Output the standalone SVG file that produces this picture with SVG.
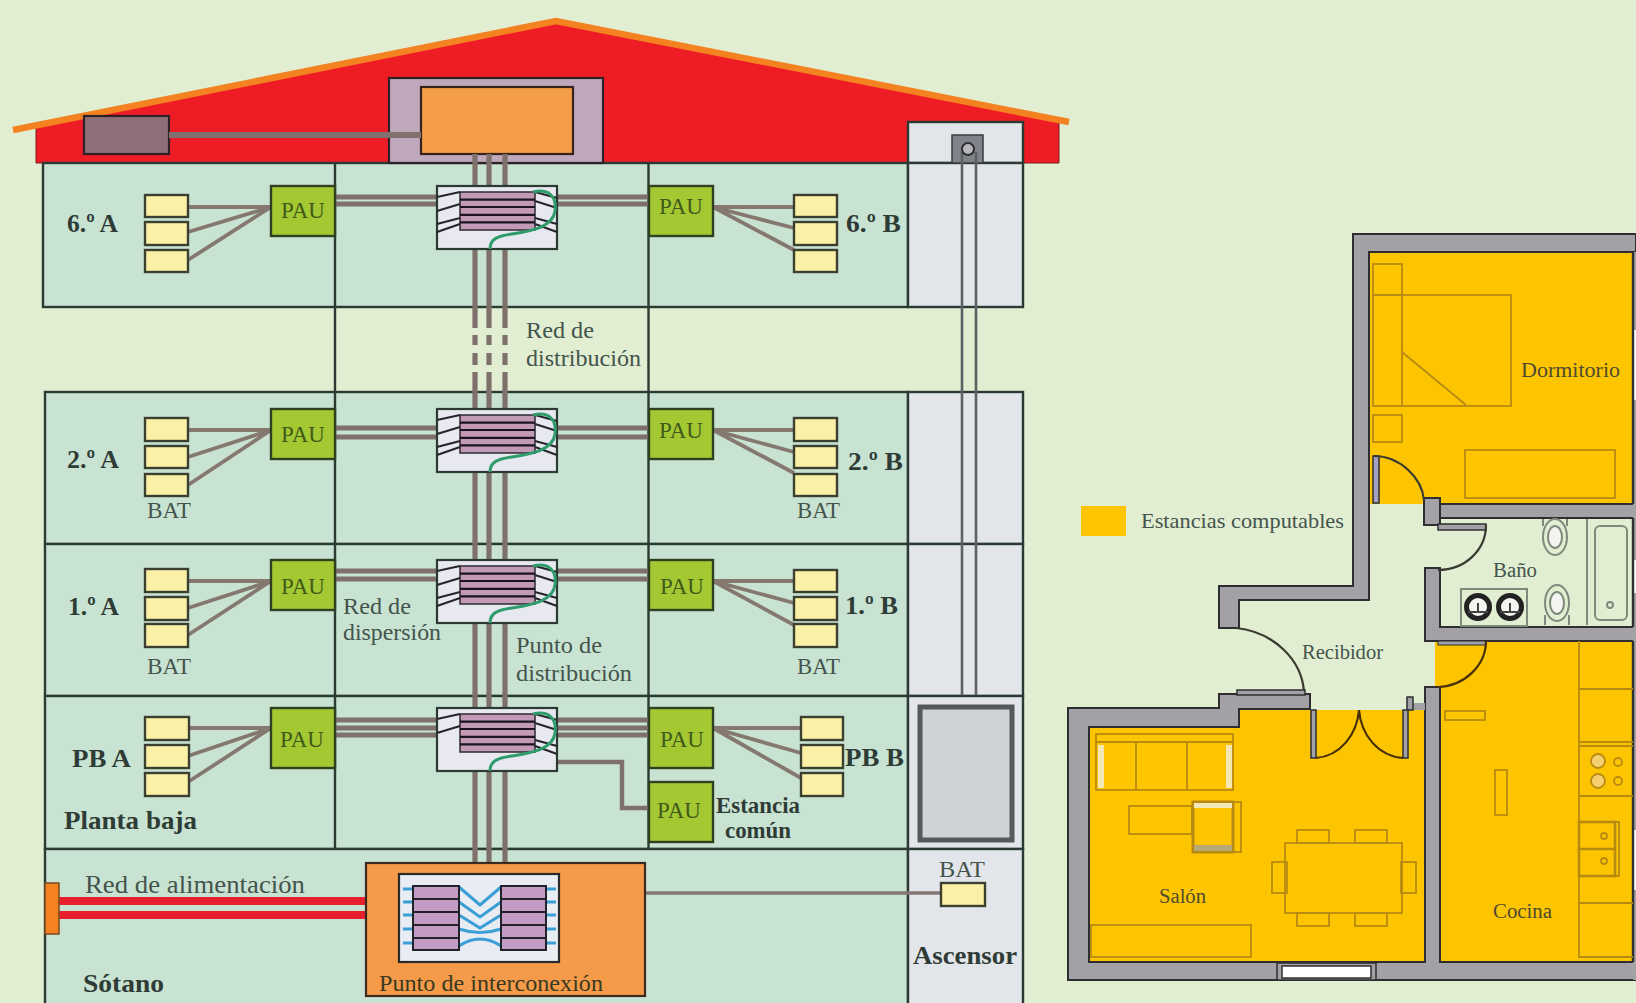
<svg xmlns="http://www.w3.org/2000/svg" xmlns:xlink="http://www.w3.org/1999/xlink" width="1636" height="1003" viewBox="0 0 1636 1003">
<style>
text{font-family:"Liberation Serif","Times New Roman",serif}
.b{font-weight:bold;fill:#2f3c36}
.r{fill:#44544c}
.pt{fill:#3f5a1a;font-size:23px}
.fl{fill:#c9e3d3;stroke:#2c3a34;stroke-width:2.4}
.el{fill:#e2e6ea;stroke:#2c3a34;stroke-width:2.4}
.ln{fill:none;stroke:#2c3a34;stroke-width:2.4}
.pau{fill:#a4c832;stroke:#2f4020;stroke-width:2.4}
.bat{fill:#fbf1a6;stroke:#3c4030;stroke-width:2.4}
.fan{fill:none;stroke:#85796f;stroke-width:3.8}
.tr{fill:none;stroke:#7f706c;stroke-width:5.200}
.wall{fill:#a2a2a6;stroke:#2e2e30;stroke-width:2}
.fu{fill:none;stroke:#b98a12;stroke-width:1.8}
.sa{fill:none;stroke:#7f8a7c;stroke-width:2}
.arc{fill:none;stroke:#3a3a30;stroke-width:2.2}
.pl{fill:#4f4a30;font-size:20px}
</style>
<defs>
<g id="dist">
<rect width="120" height="63" fill="#e8e9f0" stroke="#2c3a34" stroke-width="2.2"/>
<rect x="23" y="6" width="75" height="38" fill="#c39ab6" stroke="#2c2a30" stroke-width="1.5"/>
<path d="M23 13.6H98M23 21H98M23 28.8H98M23 36.4H98" stroke="#1c1420" stroke-width="2.2"/>
<path d="M0 11L23 6M0 25L23 18M98 6L120 12M98 15L120 22M98 32L120 38M98 38L120 46" fill="none" stroke="#26262a" stroke-width="2.200"/>
<path d="M53 60C53 49 62 47 75 45C95 42 116 38 118 22C120 8 112 -1 96 3" transform="translate(0 3)" fill="none" stroke="#2f9c6c" stroke-width="3"/>
</g>
<path id="distlow" d="M0 38L23 32M0 46L23 38" fill="none" stroke="#26262a" stroke-width="2.200"/>
</defs>
<rect id="background" width="1636" height="1003" fill="#e1eed2"/>

<g id="building">
<polygon id="roof" points="36,126 556,22 1059,122 1059,163 36,163" fill="#ee1c25" stroke="#7c1a1a" stroke-width="1"/>
<polyline id="roof-edge" points="13,130 556,21 1069,122" fill="none" stroke="#f58220" stroke-width="6.500"/>
<rect class="fl" x="43" y="163" width="865" height="144"/>
<rect class="fl" x="45" y="392" width="863" height="152"/>
<rect class="fl" x="45" y="544" width="863" height="152"/>
<rect class="fl" x="45" y="696" width="863" height="153"/>
<rect class="fl" x="45" y="849" width="863" height="160"/>
<rect class="el" x="908" y="122" width="115" height="41"/>
<rect class="el" x="908" y="163" width="115" height="144"/>
<rect class="el" x="908" y="392" width="115" height="152"/>
<rect class="el" x="908" y="544" width="115" height="152"/>
<rect class="el" x="908" y="696" width="115" height="153"/>
<rect class="el" x="908" y="849" width="115" height="160"/>
<path class="ln" d="M335 163V849M648.500 163V849"/>
</g>

<g id="machine-room"><rect x="389" y="78" width="214" height="85" fill="#bfa8bc" stroke="#2e2226" stroke-width="2.2"/></g>
<g id="roof-unit"><rect x="421" y="87" width="152" height="67" fill="#f59e4a" stroke="#33241c" stroke-width="2.2"/></g>
<g id="antenna"><rect x="84" y="116" width="85" height="38" fill="#8f6f78" stroke="#2e2226" stroke-width="2.2"/></g>
<g id="lift-motor"><rect x="952" y="135" width="31" height="28" fill="#80828a" stroke="#3a3a3e" stroke-width="1.5"/></g>

<g id="connectors">
<path d="M169 135H421" stroke="#80706e" stroke-width="6" fill="none"/>
<path class="tr" d="M475 154V186M489 154V186M505 154V186M475 249V328M489 249V328M505 249V328M475 335V345M489 335V345M505 335V345M475 353V365M489 353V365M505 353V365M475 372V409M489 372V409M505 372V409M475 473V560M489 473V560M505 473V560M475 624V708M489 624V708M505 624V708M475 772V863M489 772V863M505 772V863"/>
<path class="tr" d="M335 197H437M557 197H649M335 204H437M557 204H649M335 428H437M557 428H649M335 437H437M557 437H649M335 571H437M557 571H649M335 579H437M557 579H649M335 720H437M557 720H649M335 728H437M557 728H649M335 735H437M557 735H649"/>
<path class="tr" style="stroke-width:4.500" d="M557 762H622V808H649"/>
<path class="fan" d="M188 207H271M188 232L271 207M188 260L271 207M188 430H271M188 457L271 430M188 485L271 430M188 581H271M188 608L271 581M188 635L271 581M188 728H271M188 756L271 728M188 782L271 728"/>
<path class="fan" d="M713 207H794M713 207L794 228M713 207L794 250M713 430H794M713 430L794 452M713 430L794 473M713 581H794M713 581L794 603M713 581L794 625M713 728H801M713 728L801 753M713 728L801 778"/>
<path d="M559 893H941" stroke="#847673" stroke-width="3.500" fill="none"/>
<path d="M58 901H366M58 915H366" stroke="#e8202e" stroke-width="8" fill="none"/>
<path d="M962 152V695M976 152V695" stroke="#5c6064" stroke-width="2.600" fill="none"/>
</g>

<g id="lift-pulley"><circle cx="968" cy="149" r="6" fill="#b8b8bc" stroke="#2e2e30" stroke-width="2"/></g>
<g id="lift-cabin"><rect x="920" y="707" width="92" height="133" fill="#cfd2d6" stroke="#55585c" stroke-width="5"/></g>

<g id="dist-6"><use xlink:href="#dist" href="#dist" x="437" y="186"/><use href="#distlow" xlink:href="#distlow" x="437" y="186"/></g>
<g id="dist-2"><use xlink:href="#dist" href="#dist" x="437" y="409"/><use href="#distlow" xlink:href="#distlow" x="437" y="409"/></g>
<g id="dist-1"><use xlink:href="#dist" href="#dist" x="437" y="560"/><use href="#distlow" xlink:href="#distlow" x="437" y="560"/></g>
<g id="dist-pb"><use xlink:href="#dist" href="#dist" x="437" y="708"/></g>

<g id="pau-6a"><rect class="pau" x="271" y="186" width="64" height="50"/><text class="pt" x="281" y="218">PAU</text></g>
<g id="pau-6b"><rect class="pau" x="649" y="186" width="64" height="50"/><text class="pt" x="659" y="214">PAU</text></g>
<g id="pau-2a"><rect class="pau" x="271" y="409" width="64" height="50"/><text class="pt" x="281" y="442">PAU</text></g>
<g id="pau-2b"><rect class="pau" x="649" y="409" width="64" height="50"/><text class="pt" x="659" y="438">PAU</text></g>
<g id="pau-1a"><rect class="pau" x="271" y="560" width="64" height="50"/><text class="pt" x="281" y="594">PAU</text></g>
<g id="pau-1b"><rect class="pau" x="649" y="560" width="64" height="50"/><text class="pt" x="660" y="594">PAU</text></g>
<g id="pau-pba"><rect class="pau" x="271" y="708" width="64" height="60"/><text class="pt" x="280" y="747">PAU</text></g>
<g id="pau-pbb"><rect class="pau" x="649" y="708" width="64" height="60"/><text class="pt" x="660" y="747">PAU</text></g>
<g id="pau-comun"><rect class="pau" x="649" y="782" width="64" height="60"/><text class="pt" x="657" y="818">PAU</text></g>

<g id="bat-6a"><rect class="bat" x="145" y="195" width="43" height="22"/><rect class="bat" x="145" y="222" width="43" height="23"/><rect class="bat" x="145" y="250" width="43" height="22"/></g>
<g id="bat-6b"><rect class="bat" x="794" y="195" width="43" height="22"/><rect class="bat" x="794" y="222" width="43" height="23"/><rect class="bat" x="794" y="250" width="43" height="22"/></g>
<g id="bat-2a"><rect class="bat" x="145" y="418" width="43" height="23"/><rect class="bat" x="145" y="446" width="43" height="22"/><rect class="bat" x="145" y="474" width="43" height="22"/></g>
<g id="bat-2b"><rect class="bat" x="794" y="418" width="43" height="23"/><rect class="bat" x="794" y="446" width="43" height="22"/><rect class="bat" x="794" y="474" width="43" height="22"/></g>
<g id="bat-1a"><rect class="bat" x="145" y="569" width="43" height="23"/><rect class="bat" x="145" y="597" width="43" height="23"/><rect class="bat" x="145" y="624" width="43" height="23"/></g>
<g id="bat-1b"><rect class="bat" x="794" y="570" width="43" height="22"/><rect class="bat" x="794" y="597" width="43" height="23"/><rect class="bat" x="794" y="624" width="43" height="23"/></g>
<g id="bat-pba"><rect class="bat" x="145" y="717" width="44" height="23"/><rect class="bat" x="145" y="745" width="44" height="23"/><rect class="bat" x="145" y="773" width="44" height="23"/></g>
<g id="bat-pbb"><rect class="bat" x="801" y="717" width="42" height="23"/><rect class="bat" x="801" y="745" width="42" height="23"/><rect class="bat" x="801" y="773" width="42" height="23"/></g>
<g id="bat-lift"><rect class="bat" x="941" y="883" width="44" height="23"/></g>

<g id="entry"><rect x="45" y="883" width="14" height="51" fill="#f58220" stroke="#7a4a20" stroke-width="1.5"/></g>

<g id="interconnect">
<rect x="366" y="863" width="279" height="133" fill="#f59a48" stroke="#3a2a20" stroke-width="2.2"/>
<rect x="399" y="874" width="160" height="88" fill="#e9ecf2" stroke="#2a2a2c" stroke-width="2.2"/>
<path d="M403 889H413M403 902H413M403 915H413M403 929H413M403 943H413M546 889H556M546 902H556M546 915H556M546 929H556M546 943H556M459 887L480 905L501 887M459 902L480 917L501 902M459 915L480 928L501 915M459 929Q480 936 501 929M459 946Q480 932 501 946" fill="none" stroke="#3a9fd6" stroke-width="3"/>
<rect x="413" y="886" width="46" height="64" fill="#c39cc4" stroke="#22222a" stroke-width="2"/>
<rect x="501" y="886" width="45" height="64" fill="#c39cc4" stroke="#22222a" stroke-width="2"/>
<path d="M413 899H459M413 912H459M413 925H459M413 938H459M501 899H546M501 912H546M501 925H546M501 938H546" stroke="#22222a" stroke-width="1.8"/>
</g>

<g id="labels-building">
<text class="b" x="67" y="232" font-size="26" textLength="51" lengthAdjust="spacingAndGlyphs">6.º A</text>
<text class="b" x="67" y="468" font-size="26" textLength="52" lengthAdjust="spacingAndGlyphs">2.º A</text>
<text class="b" x="68" y="615" font-size="26" textLength="51" lengthAdjust="spacingAndGlyphs">1.º A</text>
<text class="b" x="72" y="767" font-size="26" textLength="59" lengthAdjust="spacingAndGlyphs">PB A</text>
<text class="b" x="846" y="232" font-size="26" textLength="55" lengthAdjust="spacingAndGlyphs">6.º B</text>
<text class="b" x="848" y="470" font-size="26" textLength="55" lengthAdjust="spacingAndGlyphs">2.º B</text>
<text class="b" x="845" y="614" font-size="26" textLength="53" lengthAdjust="spacingAndGlyphs">1.º B</text>
<text class="b" x="845" y="766" font-size="26" textLength="59" lengthAdjust="spacingAndGlyphs">PB B</text>
<text class="b" x="64" y="829" font-size="26" textLength="133" lengthAdjust="spacingAndGlyphs">Planta baja</text>
<text class="b" x="83" y="992" font-size="26" textLength="81" lengthAdjust="spacingAndGlyphs">Sótano</text>
<text class="b" x="716" y="813" font-size="24" textLength="84" lengthAdjust="spacingAndGlyphs">Estancia</text>
<text class="b" x="725" y="838" font-size="24" textLength="66" lengthAdjust="spacingAndGlyphs">común</text>
<text class="b" x="913" y="964" font-size="26" textLength="104" lengthAdjust="spacingAndGlyphs">Ascensor</text>
<text class="r" x="147" y="518" font-size="23" textLength="44" lengthAdjust="spacingAndGlyphs">BAT</text>
<text class="r" x="147" y="674" font-size="23" textLength="44" lengthAdjust="spacingAndGlyphs">BAT</text>
<text class="r" x="797" y="518" font-size="23" textLength="43" lengthAdjust="spacingAndGlyphs">BAT</text>
<text class="r" x="797" y="674" font-size="23" textLength="43" lengthAdjust="spacingAndGlyphs">BAT</text>
<text class="r" x="939" y="877" font-size="23" textLength="46" lengthAdjust="spacingAndGlyphs">BAT</text>
<text class="r" x="85" y="893" font-size="26" textLength="220" lengthAdjust="spacingAndGlyphs">Red de alimentación</text>
<text class="r" style="fill:#3a3a20" x="379" y="991" font-size="24" textLength="224" lengthAdjust="spacingAndGlyphs">Punto de interconexión</text>
<text class="r" x="526" y="338" font-size="24" textLength="68" lengthAdjust="spacingAndGlyphs">Red de</text>
<text class="r" x="526" y="366" font-size="24" textLength="115" lengthAdjust="spacingAndGlyphs">distribución</text>
<text class="r" x="343" y="614" font-size="24" textLength="68" lengthAdjust="spacingAndGlyphs">Red de</text>
<text class="r" x="343" y="640" font-size="24" textLength="98" lengthAdjust="spacingAndGlyphs">dispersión</text>
<text class="r" x="516" y="653" font-size="24" textLength="86" lengthAdjust="spacingAndGlyphs">Punto de</text>
<text class="r" x="516" y="681" font-size="24" textLength="116" lengthAdjust="spacingAndGlyphs">distribución</text>
</g>

<g id="floor-plan">
<rect x="1369" y="252" width="264" height="252" fill="#fdc500"/>
<rect x="1435" y="641" width="198" height="320" fill="#fdc500"/>
<polygon points="1089,727 1239,727 1239,710 1425,710 1425,961 1089,961" fill="#fdc500"/>

<path class="wall" d="M1636 234H1353V586H1219V628H1239V600H1369V252H1636Z"/>
<rect class="wall" x="1440" y="504" width="196" height="14"/>
<rect class="wall" x="1424" y="498" width="16" height="27"/>
<path class="wall" d="M1425 568H1440V627H1636V641H1425Z"/>
<path class="wall" d="M1425 687H1440V962H1636V980H1068V708H1219V694H1310V709H1239V727H1089V962H1425Z"/>
<rect x="1407" y="703" width="18" height="7" fill="#a2a2a6"/>
<rect x="1407" y="697" width="6" height="13" fill="#a2a2a6" stroke="#2e2e30" stroke-width="1.5"/>
<rect x="1633" y="252" width="3" height="728" fill="#a2a2a6"/>
<path d="M1634 330V400M1634 560V593M1634 830V890" stroke="#fff" stroke-width="4"/>
<path class="ln" style="stroke:#2e2e30" d="M1633 252V504M1633 518V627M1633 641V962"/>
<rect x="1277" y="963" width="99" height="17" fill="#a2a2a6" stroke="#2e2e30" stroke-width="1.5"/>
<rect x="1282" y="966" width="89" height="12" fill="#fff" stroke="#2e2e30" stroke-width="1.5"/>

<rect x="1373" y="456" width="6" height="47" fill="#a2a2c0" stroke="#2e2e30" stroke-width="1.5"/>
<path class="arc" d="M1374 456C1400 456 1422 478 1424 500"/>
<rect x="1438" y="524" width="48" height="6" fill="#a2a2a6" stroke="#2e2e30" stroke-width="1.5"/>
<path class="arc" d="M1486 525C1486 550 1465 570 1438 570"/>
<rect x="1438" y="641" width="48" height="4" fill="#a2a2a6" stroke="#2e2e30" stroke-width="1"/>
<path class="arc" d="M1486 641C1486 665 1465 686 1438 687" style="stroke:#4a3008"/>
<path class="arc" d="M1236 628C1274 632 1302 660 1304 692"/>
<rect x="1237" y="690" width="68" height="5" fill="#a2a2a6" stroke="#2e2e30" stroke-width="1.5"/>
<rect x="1311" y="710" width="5" height="48" fill="#a2a2a6" stroke="#2e2e30" stroke-width="1.5"/>
<rect x="1403" y="710" width="5" height="48" fill="#a2a2a6" stroke="#2e2e30" stroke-width="1.5"/>
<path class="arc" d="M1316 758C1340 756 1357 735 1359 710C1361 735 1378 756 1403 758" style="stroke:#4a3008"/>

<g class="fu">
<rect x="1373" y="264" width="29" height="31"/><rect x="1373" y="295" width="138" height="111"/><path d="M1402 295V406M1402 352L1466 405"/><rect x="1373" y="415" width="29" height="27"/><rect x="1465" y="450" width="150" height="48"/>
<rect x="1096" y="734" width="137" height="56"/><path d="M1096 742H1233M1136 742V790M1187 742V790"/>
<rect x="1129" y="806" width="63" height="28"/><rect x="1193" y="802" width="48" height="50"/><rect x="1193" y="802" width="40" height="50" stroke-width="3"/>
<rect x="1285" y="843" width="117" height="70"/><rect x="1297" y="830" width="32" height="13"/><rect x="1355" y="830" width="32" height="13"/><rect x="1297" y="913" width="32" height="13"/><rect x="1355" y="913" width="32" height="13"/><rect x="1272" y="862" width="15" height="31"/><rect x="1401" y="862" width="15" height="31"/>
<rect x="1091" y="925" width="160" height="32"/>
<rect x="1445" y="711" width="40" height="9"/><rect x="1495" y="770" width="12" height="45"/>
<path d="M1579 641V957H1633M1579 689H1633M1579 742H1633M1579 746H1633M1579 796H1633M1579 903H1633"/>
<circle cx="1598" cy="761" r="7" fill="#f5d070"/><circle cx="1618" cy="762" r="4"/><circle cx="1598" cy="781" r="7" fill="#f5d070"/><circle cx="1618" cy="781" r="4"/>
<rect x="1579" y="822" width="40" height="54"/><rect x="1579" y="822" width="36" height="54" stroke-width="2.6"/><path d="M1579 849H1615" stroke-width="2.6"/><circle cx="1604" cy="836" r="3"/><circle cx="1604" cy="861" r="3"/>
</g>
<rect x="1098" y="745" width="6" height="43" fill="#f6e8b4"/><rect x="1226" y="745" width="6" height="43" fill="#f6e8b4"/>
<rect x="1194" y="803" width="38" height="5" fill="#f6e8b4"/><rect x="1194" y="845" width="38" height="6" fill="#b8a878"/>

<g class="sa">
<path d="M1587 519V625"/><rect x="1595" y="526" width="32" height="94" rx="5"/><circle cx="1610" cy="605" r="3"/>
<path d="M1543 519V526M1567 519V526"/><ellipse cx="1555" cy="537" rx="12" ry="18"/><ellipse cx="1555" cy="537" rx="7" ry="11" fill="#f4f4f0"/>
<path d="M1545 625V615M1569 625V615"/><ellipse cx="1557" cy="603" rx="12" ry="18"/><ellipse cx="1557" cy="603" rx="7" ry="11" fill="#f4f4f0"/>
<rect x="1461" y="589" width="66" height="37"/>
</g>
<circle cx="1478" cy="607" r="11.500" fill="#f4f4f0" stroke="#222" stroke-width="5"/>
<circle cx="1510" cy="607" r="11.500" fill="#f4f4f0" stroke="#222" stroke-width="5"/>
<path d="M1478 603V611M1510 603V611M1468 612H1488M1500 612H1520" stroke="#444" stroke-width="2"/>
</g>

<g id="legend"><rect x="1081" y="506" width="45" height="30" fill="#fdc500"/><text class="r" x="1141" y="528" font-size="22" textLength="203" lengthAdjust="spacingAndGlyphs">Estancias computables</text></g>
<g id="labels-plan">
<text class="pl" x="1521" y="377" textLength="99" lengthAdjust="spacingAndGlyphs">Dormitorio</text>
<text class="r" x="1493" y="577" font-size="20" textLength="44" lengthAdjust="spacingAndGlyphs">Baño</text>
<text class="r" x="1302" y="659" font-size="20" textLength="81" lengthAdjust="spacingAndGlyphs">Recibidor</text>
<text class="pl" x="1159" y="903" textLength="47" lengthAdjust="spacingAndGlyphs">Salón</text>
<text class="pl" x="1493" y="918" textLength="59" lengthAdjust="spacingAndGlyphs">Cocina</text>
</g>
</svg>
